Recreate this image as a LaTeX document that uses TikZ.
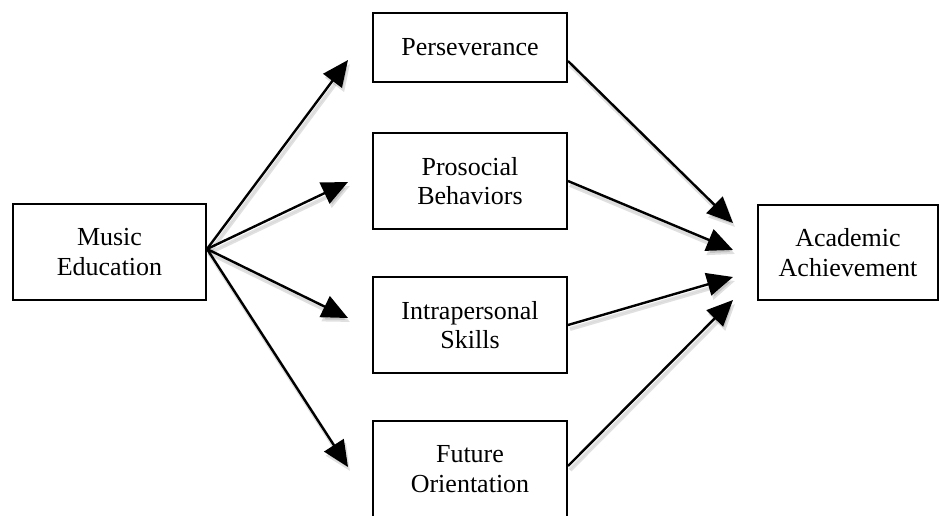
\documentclass[tikz,border=0pt]{standalone}
\usepackage{fontspec}
\setmainfont{Liberation Serif}
\usetikzlibrary{arrows.meta}
\begin{document}
\begin{tikzpicture}[x=1pt,y=-1pt,
  box/.style={draw, line width=2pt, inner sep=0pt, align=center,
    font=\fontsize{26}{29.5}\selectfont, anchor=north west},
  arr/.style={line width=2.4pt, -{Triangle[length=26pt,width=23pt]}},
  shadowarr/.style={arr, draw=black, fill=black, opacity=0.12, line width=4pt,
    transform canvas={xshift=2pt,yshift=-4pt}}
]
\useasboundingbox (0,0) rectangle (939,515);
\fill[white] (0,0) rectangle (939,515);

\node[box, minimum width=193pt, minimum height=96pt] (me) at (12,203) {Music\\Education};
\node[box, minimum width=194pt, minimum height=69pt] (pe) at (372,12) {Perseverance};
\node[box, minimum width=194pt, minimum height=96pt] (ps) at (372,132) {Prosocial\\Behaviors};
\node[box, minimum width=194pt, minimum height=96pt] (ip) at (372,276) {Intrapersonal\\Skills};
\node[box, minimum width=194pt, minimum height=96pt] (fo) at (372,420) {Future\\Orientation};
\node[box, minimum width=180pt, minimum height=95pt] (aa) at (757,204) {Academic\\Achievement};

\coordinate (t1) at (348,60);
\coordinate (t2) at (348,182);
\coordinate (t3) at (348,318);
\coordinate (t4) at (348,467);
\coordinate (u1) at (733,223);
\coordinate (u2) at (733,250);
\coordinate (u3) at (733,277);
\coordinate (u4) at (733,300);

\foreach \t in {t1,t2,t3,t4} {
  \draw[shadowarr] ([yshift=3pt]me.east) -- (\t);
}
\draw[shadowarr] ([yshift=-13.5pt]pe.east) -- (u1);
\draw[shadowarr] (ps.east) -- (u2);
\draw[shadowarr] (ip.east) -- (u3);
\draw[shadowarr] ([yshift=3pt]fo.east) -- (u4);

\foreach \t in {t1,t2,t3,t4} {
  \draw[arr] ([yshift=3pt]me.east) -- (\t);
}
\draw[arr] ([yshift=-13.5pt]pe.east) -- (u1);
\draw[arr] (ps.east) -- (u2);
\draw[arr] (ip.east) -- (u3);
\draw[arr] ([yshift=3pt]fo.east) -- (u4);
\end{tikzpicture}
\end{document}
